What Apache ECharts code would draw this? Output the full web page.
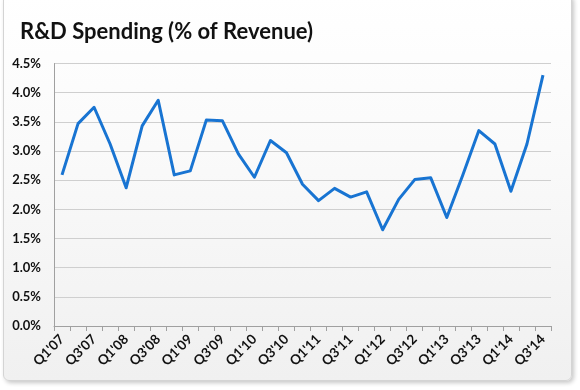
<!DOCTYPE html>
<html>
<head>
<meta charset="utf-8">
<script src="https://cdn.jsdelivr.net/npm/echarts@6/dist/echarts.min.js"></script>
<style>
html,body{margin:0;padding:0;background:#fff;overflow:hidden;}
#frame{position:absolute;left:3px;top:-6px;width:567px;height:385px;border:1px solid #d4d4d4;border-radius:6px;
 box-shadow:2px 2px 4px rgba(0,0,0,0.22);background:linear-gradient(to bottom,#ffffff 0%,#fafafa 40%,#f0f0f0 100%);}
#chart{position:absolute;left:0;top:0;width:580px;height:390px;}
</style>
</head>
<body>
<div id="frame"></div>
<div id="chart"></div>
<script>
const quarters = ["Q1'07","Q2'07","Q3'07","Q4'07","Q1'08","Q2'08","Q3'08","Q4'08",
  "Q1'09","Q2'09","Q3'09","Q4'09","Q1'10","Q2'10","Q3'10","Q4'10",
  "Q1'11","Q2'11","Q3'11","Q4'11","Q1'12","Q2'12","Q3'12","Q4'12",
  "Q1'13","Q2'13","Q3'13","Q4'13","Q1'14","Q2'14","Q3'14"];
const rdSpending = [2.59,3.47,3.75,3.12,2.37,3.43,3.87,2.59,
  2.66,3.53,3.52,2.95,2.55,3.18,2.97,2.43,
  2.15,2.36,2.21,2.30,1.65,2.17,2.51,2.54,
  1.86,2.59,3.35,3.12,2.31,3.12,4.30];
const yTicks = [0,0.5,1,1.5,2,2.5,3,3.5,4,4.5];

const chart = echarts.init(document.getElementById('chart'), null, {renderer:'canvas'});
chart.setOption({
  backgroundColor:'transparent',
  animation:false,
  title:{text:'R&D Spending (% of Revenue)',left:15,top:16,
    textStyle:{fontFamily:'Lato',fontWeight:'bold',fontSize:22,color:'#111'}},
  grid:{left:54,right:29,top:63.5,bottom:64,containLabel:false},
  xAxis:{type:'category',data:quarters,boundaryGap:true,
    axisLine:{lineStyle:{color:'#a0a0a0',width:1}},
    axisTick:{show:true,alignWithLabel:false,interval:0,length:5,lineStyle:{color:'#a0a0a0'}},
    axisLabel:{interval:1,rotate:45,margin:11,fontFamily:'Lato',fontWeight:'bold',fontSize:13.5,color:'#111'},
    splitLine:{show:false}},
  yAxis:{type:'value',min:yTicks[0],max:yTicks[yTicks.length-1],interval:0.5,
    axisLine:{show:true,lineStyle:{color:'#a0a0a0'}},
    axisTick:{show:false},
    axisLabel:{margin:13,fontFamily:'Lato',fontWeight:'bold',fontSize:13,color:'#111',
      formatter:v=>v.toFixed(1)+'%'},
    splitLine:{lineStyle:{color:'#cfcfcf',width:1.2}}},
  series:[{type:'line',data:rdSpending,symbol:'none',
    lineStyle:{color:'#1874d2',width:3,join:'round'}}]
});
</script>
</body>
</html>
